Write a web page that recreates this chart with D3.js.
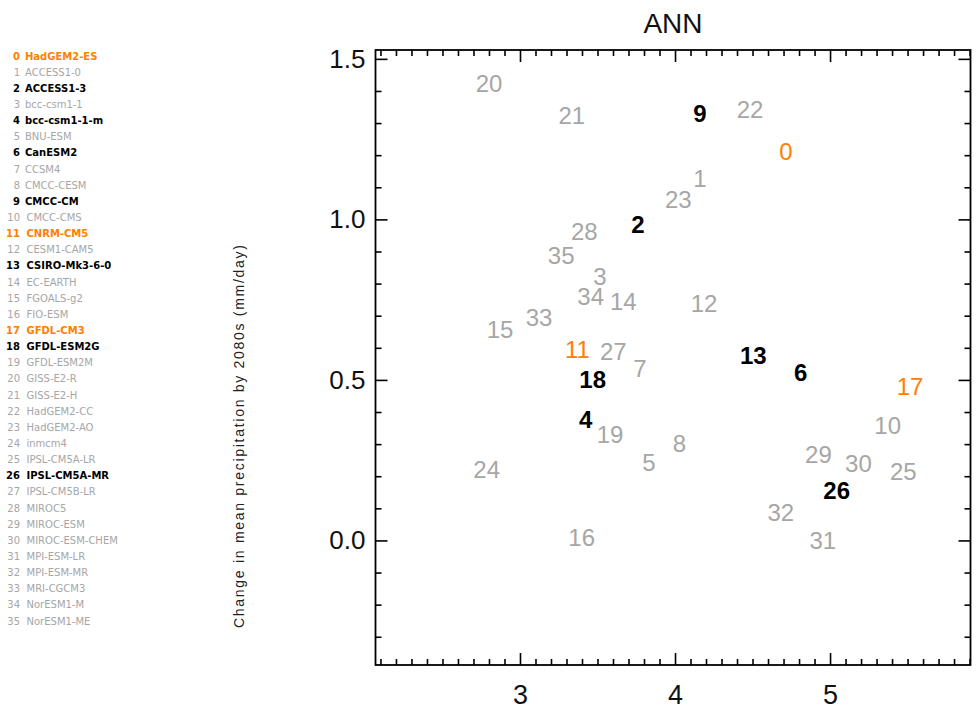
<!DOCTYPE html>
<html><head><meta charset="utf-8">
<script src="https://cdn.jsdelivr.net/npm/d3@7"></script>
<style>body{margin:0;background:#fff}svg{display:block}</style>
</head><body><svg id="c" width="977" height="720"></svg>
<script>
const models = ["HadGEM2-ES","ACCESS1-0","ACCESS1-3","bcc-csm1-1","bcc-csm1-1-m","BNU-ESM","CanESM2","CCSM4","CMCC-CESM","CMCC-CM","CMCC-CMS","CNRM-CM5","CESM1-CAM5","CSIRO-Mk3-6-0","EC-EARTH","FGOALS-g2","FIO-ESM","GFDL-CM3","GFDL-ESM2G","GFDL-ESM2M","GISS-E2-R","GISS-E2-H","HadGEM2-CC","HadGEM2-AO","inmcm4","IPSL-CM5A-LR","IPSL-CM5A-MR","IPSL-CM5B-LR","MIROC5","MIROC-ESM","MIROC-ESM-CHEM","MPI-ESM-LR","MPI-ESM-MR","MRI-CGCM3","NorESM1-M","NorESM1-ME"];
const groups = ["hi","lo","sel","lo","sel","lo","sel","lo","lo","sel","lo","hi","lo","sel","lo","lo","lo","hi","sel","lo","lo","lo","lo","lo","lo","lo","sel","lo","lo","lo","lo","lo","lo","lo","lo","lo"];
const xValues = [4.716,4.161,3.761,3.516,3.424,3.832,4.811,3.774,4.028,4.161,5.372,3.370,4.187,4.505,3.666,2.871,3.398,5.516,3.469,3.581,2.800,3.334,4.484,4.021,2.785,5.473,5.043,3.602,3.415,4.925,5.183,4.953,4.682,3.123,3.456,3.266];
const yValues = [1.211,1.128,0.986,0.824,0.376,0.243,0.524,0.537,0.303,1.330,0.358,0.594,0.737,0.575,0.744,0.658,0.009,0.479,0.502,0.331,1.425,1.325,1.343,1.063,0.222,0.215,0.155,0.590,0.962,0.269,0.241,0.000,0.088,0.694,0.759,0.889];
const xMajorTicks = [3,4,5];
const yMajorTicks = [0.0,0.5,1.0,1.5];
const title = "ANN";
const yLabel = "Change in mean precipitation by 2080s (mm/day)";

const colorOf = {hi:"#ff8000", lo:"#a6a6a6", sel:"#000000"};
const svg = d3.select("#c");
const L = 375.5, R = 970.5, T = 50, B = 665;
const x = d3.scaleLinear().domain([2.068,5.906]).range([L,R]);
const y = d3.scaleLinear().domain([-0.388,1.5276]).range([B,T]);

const xMinor = d3.range(21,60).map(d=>d/10).filter(d=>!xMajorTicks.some(m=>Math.abs(m-d)<1e-6));
const yMinor = d3.range(-3,16).map(d=>d/10).filter(d=>!yMajorTicks.some(m=>Math.abs(m-d)<1e-6));

function styleAxis(g){
  g.select(".domain").remove();
  g.selectAll("line").attr("stroke","#000").attr("stroke-width",1.6);
  g.selectAll("text").attr("font-family","Liberation Sans, Arial, sans-serif").attr("fill","#111");
}
// bottom
svg.append("g").attr("transform",`translate(0,${B})`).call(d3.axisBottom(x).tickValues(xMinor).tickSize(-6).tickFormat("")).call(styleAxis);
svg.append("g").attr("transform",`translate(0,${B})`).call(d3.axisBottom(x).tickValues(xMajorTicks).tickSize(-12).tickPadding(20).tickFormat(d3.format("d"))).call(styleAxis)
  .selectAll("text").attr("font-size",27);
// top
svg.append("g").attr("transform",`translate(0,${T})`).call(d3.axisTop(x).tickValues(xMinor).tickSize(-6).tickFormat("")).call(styleAxis);
svg.append("g").attr("transform",`translate(0,${T})`).call(d3.axisTop(x).tickValues(xMajorTicks).tickSize(-12).tickFormat("")).call(styleAxis);
// left
svg.append("g").attr("transform",`translate(${L},0)`).call(d3.axisLeft(y).tickValues(yMinor).tickSize(-6).tickFormat("")).call(styleAxis);
svg.append("g").attr("transform",`translate(${L},0)`).call(d3.axisLeft(y).tickValues(yMajorTicks).tickSize(-12).tickPadding(10).tickFormat(d3.format(".1f"))).call(styleAxis)
  .selectAll("text").attr("font-size",26);
// right
svg.append("g").attr("transform",`translate(${R},0)`).call(d3.axisRight(y).tickValues(yMinor).tickSize(-6).tickFormat("")).call(styleAxis);
svg.append("g").attr("transform",`translate(${R},0)`).call(d3.axisRight(y).tickValues(yMajorTicks).tickSize(-12).tickFormat("")).call(styleAxis);
// frame
svg.append("rect").attr("x",L).attr("y",T).attr("width",R-L).attr("height",B-T)
  .attr("fill","none").attr("stroke","#000").attr("stroke-width",1.8);

// title
svg.append("text").attr("x",(L+R)/2).attr("y",33).attr("text-anchor","middle")
  .attr("font-family","Liberation Sans, Arial, sans-serif").attr("font-size",28).attr("fill","#111").text(title);
// y label
svg.append("text").attr("transform",`translate(244,${(628+245)/2}) rotate(-90)`).attr("text-anchor","middle")
  .attr("font-family","Liberation Sans, Arial, sans-serif").attr("font-size",14).attr("fill","#222")
  .attr("textLength",383).attr("lengthAdjust","spacing").text(yLabel);

// points as labels
const data = models.map((m,i)=>({i, m, g:groups[i], x:xValues[i], y:yValues[i]}));
svg.append("g").selectAll("text").data(data).join("text")
  .attr("x",d=>x(d.x)).attr("y",d=>y(d.y)).attr("dy","0.36em").attr("text-anchor","middle")
  .attr("font-family","Liberation Sans, Arial, sans-serif").attr("font-size",24)
  .attr("font-weight",d=>d.g==="sel"?"bold":"normal")
  .attr("fill",d=>colorOf[d.g]).text(d=>d.i);

// legend
const lg = svg.append("g").attr("font-family","DejaVu Sans, sans-serif").attr("font-size",10);
const rowY = i => 56 + 16.14*i;
lg.selectAll("text.num").data(data).join("text").attr("class","num")
  .attr("x",20).attr("y",d=>rowY(d.i)).attr("dy","0.36em").attr("text-anchor","end")
  .attr("font-weight",d=>d.g==="lo"?"normal":"bold").attr("fill",d=>colorOf[d.g]).text(d=>d.i);
lg.selectAll("text.name").data(data).join("text").attr("class","name")
  .attr("x",d=>d.i<10?25:26.5).attr("y",d=>rowY(d.i)).attr("dy","0.36em")
  .attr("font-weight",d=>d.g==="lo"?"normal":"bold").attr("fill",d=>colorOf[d.g]).text(d=>d.m);
</script></body></html>
